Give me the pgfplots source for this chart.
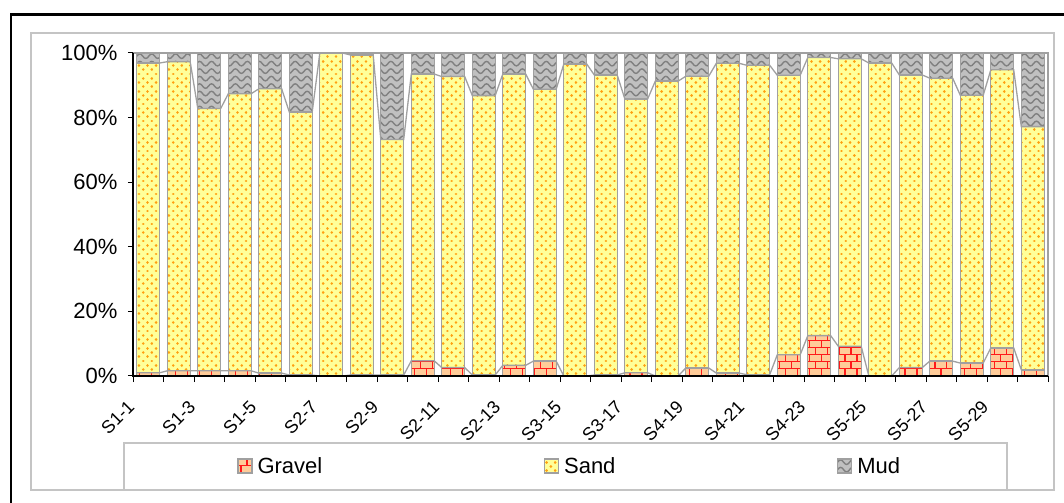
\documentclass[border=0pt]{standalone}
\usepackage{fontspec}
\setmainfont{Liberation Sans}
\usepackage{pgfplots}
\pgfplotsset{compat=1.18}
\usepackage{pgfplotstable}

\definecolor{gravelfill}{HTML}{FFCC99}
\definecolor{gravelline}{HTML}{FF1A1A}
\definecolor{sandfill}{HTML}{FFFF99}
\definecolor{sanddot}{HTML}{FFA010}
\definecolor{mudfill}{HTML}{C0C0C0}
\definecolor{mudwave}{HTML}{808080}
\definecolor{bargray}{HTML}{A0A0A0}
\definecolor{framegray}{HTML}{C4C4C4}

% corners of the shape being filled (numbers in pt)
\newcommand\ppbox{%
  \pgfpointanchor{path picture bounding box}{south west}\pgfgetlastxy{\ta}{\tb}%
  \pgfpointanchor{path picture bounding box}{north east}\pgfgetlastxy{\tc}{\td}%
  \pgfmathsetmacro\pxa{\ta}\pgfmathsetmacro\pya{\tb}%
  \pgfmathsetmacro\pxb{\tc}\pgfmathsetmacro\pyb{\td}%
}
% a straight stroke from (#1,#2) to (#3,#2), coordinates in pt
\newcommand\hstroke[3]{%
  \pgfpathmoveto{\pgfpoint{#1pt}{#2pt}}\pgfpathlineto{\pgfpoint{#3pt}{#2pt}}\pgfusepath{stroke}}

% fill textures, drawn with the basic layer so that the inner strokes
% do not pick up the bar style again
\tikzset{
  % red brick courses
  bricktex/.style={path picture={\ppbox
    \pgfmathtruncatemacro\ny{min(60,max(0,ceil((\pyb-\pya)/7)))}%
    \pgfplotsforeachungrouped \j in {0,...,\ny}{%
      \pgfmathsetmacro\ya{\pya+\j*7+0.7}%
      \pgfmathsetmacro\yb{\pya+\j*7+4.2}%
      \pgfmathsetmacro\xs{\pxa+2.3+mod(\j,2)*6}%
      \begin{pgfscope}
        \pgfsetstrokecolor{gravelline}\pgfsetlinewidth{1.4pt}%
        \hstroke{\pxa}{\ya}{\pxb}%
        \pgfsetlinewidth{7pt}\pgfsetbuttcap\pgfsetdash{{1.4pt}{10.6pt}}{0pt}%
        \hstroke{\xs}{\yb}{\pxb}%
      \end{pgfscope}
    }
  }},
  % staggered orange dots
  dottex/.style={path picture={\ppbox
    \pgfmathtruncatemacro\ny{min(90,max(0,ceil((\pyb-\pya)/4.3)))}%
    \pgfplotsforeachungrouped \j in {0,...,\ny}{%
      \pgfmathsetmacro\ya{\pya+\j*4.3+2.15}%
      \pgfmathsetmacro\xs{\pxa+2.15+mod(\j,2)*4.3}%
      \begin{pgfscope}
        \pgfsetstrokecolor{sanddot}\pgfsetlinewidth{2.8pt}\pgfsetroundcap
        \pgfsetdash{{0.01pt}{8.59pt}}{0pt}%
        \hstroke{\xs}{\ya}{\pxb}%
      \end{pgfscope}
    }
  }},
  % grey waves
  wavetex/.style={path picture={\ppbox
    \pgfmathtruncatemacro\nx{min(100,max(0,ceil((\pxb-\pxa)/12)))}%
    \pgfmathtruncatemacro\ny{min(60,max(0,ceil((\pyb-\pya)/7.5)))}%
    \pgfplotsforeachungrouped \j in {0,...,\ny}{%
      \pgfmathsetmacro\ya{\pyb-\j*7.5-3.2}%
      \begin{pgfscope}
        \pgfsetstrokecolor{mudwave}\pgfsetlinewidth{1.4pt}%
        \pgfpathmoveto{\pgfpoint{\pxa pt}{\ya pt}}%
        \pgfplotsforeachungrouped \i in {0,...,\nx}{%
          \pgfmathsetmacro\xw{\pxa+\i*12}%
          \pgfpathcurveto{\pgfpoint{\xw pt+2pt}{\ya pt+3pt}}{\pgfpoint{\xw pt+4pt}{\ya pt+3pt}}{\pgfpoint{\xw pt+6pt}{\ya pt}}%
          \pgfpathcurveto{\pgfpoint{\xw pt+8pt}{\ya pt-3pt}}{\pgfpoint{\xw pt+10pt}{\ya pt-3pt}}{\pgfpoint{\xw pt+12pt}{\ya pt}}%
        }%
        \pgfusepath{stroke}%
      \end{pgfscope}
    }
  }},
}

% grain size fractions (%) per sample
\pgfplotstableread{
x gravel sand mud
1 1.0 95.9 3.1
2 1.6 95.7 2.7
3 1.6 81.2 17.2
4 1.6 85.8 12.6
5 0.9 88.0 11.1
6 0.3 81.4 18.3
7 0.0 100.0 0.0
8 0.3 99.1 0.6
9 0.3 72.9 26.8
10 4.7 88.8 6.5
11 2.6 90.1 7.3
12 0.3 86.5 13.2
13 3.3 90.2 6.5
14 4.6 84.2 11.2
15 0.0 96.6 3.4
16 0.3 92.9 6.8
17 1.0 84.8 14.2
18 0.0 91.3 8.7
19 2.5 90.3 7.2
20 0.9 95.9 3.2
21 0.4 95.8 3.8
22 6.6 86.5 6.9
23 12.5 86.1 1.4
24 9.2 89.0 1.8
25 0.0 96.9 3.1
26 2.6 90.6 6.8
27 4.6 87.6 7.8
28 4.0 82.9 13.1
29 8.7 86.1 5.2
30 1.9 75.3 22.8
}\grain

% series lines joining the segment tops from one bar edge to the next
\def\seriesA{}
\def\seriesB{}
\pgfplotsforeachungrouped \i in {0,...,29}{%
  \pgfplotstablegetelem{\i}{x}\of\grain \let\xc\pgfplotsretval
  \pgfplotstablegetelem{\i}{gravel}\of\grain \let\gv\pgfplotsretval
  \pgfplotstablegetelem{\i}{sand}\of\grain \let\sv\pgfplotsretval
  \pgfmathsetmacro\xl{\xc-0.375}%
  \pgfmathsetmacro\xr{\xc+0.375}%
  \pgfmathsetmacro\gs{\gv+\sv}%
  \xdef\seriesA{\seriesA (\xl,\gv) (\xr,\gv)}%
  \xdef\seriesB{\seriesB (\xl,\gs) (\xr,\gs)}%
}
\newcommand\seriesplot[1]{\addplot[draw=bargray, line width=1.3bp, mark=none] coordinates {#1};}

\pgfplotsset{
  base/.style={
    at={(133bp,127bp)}, anchor=south west,
    width=915bp, height=323bp, scale only axis,
    xmin=0.5, xmax=30.5, ymin=0, ymax=100,
  },
  legbox/.style={legend image code/.code={\draw[##1] (0bp,-7bp) rectangle (14bp,7bp);}},
}

\begin{document}
\begin{tikzpicture}
\useasboundingbox (0,0) rectangle (1064bp,503bp);
\draw[black, line width=2.7bp] (11bp,-10bp) -- (11bp,488.5bp) -- (1080bp,488.5bp);
\draw[framegray, line width=1.3bp] (31bp,13bp) rectangle (1054bp,470bp);
\draw[framegray, line width=1.3bp] (124bp,13bp) rectangle (1007bp,60bp);

\begin{axis}[base,
  ybar stacked, bar width=0.75,
  axis line style={draw=none},
  tick pos=left, tick align=outside,
  major tick length=5bp, minor tick length=6bp,
  ytick={0,20,...,100},
  yticklabels={0\%,20\%,40\%,60\%,80\%,100\%},
  ytick style={black, line width=1bp},
  xtick={1,3,...,29},
  xticklabels={S1-1,S1-3,S1-5,S2-7,S2-9,S2-11,S2-13,S3-15,S3-17,S4-19,S4-21,S4-23,S5-25,S5-27,S5-29},
  major x tick style={draw=none},
  minor xtick={0.5,1.5,...,30.5},
  minor x tick style={black, line width=1bp},
  yticklabel style={font=\fontsize{22bp}{26bp}\selectfont, xshift=-7bp},
  xticklabel style={font=\fontsize{18bp}{22bp}\selectfont, anchor=east,
    inner sep=0pt, xshift=-17bp, yshift=-23bp, rotate=45},
  legend columns=3,
  legend cell align=left,
  legend style={draw=none, fill=none, inner sep=0pt,
    nodes={inner sep=5bp},
    at={(0.11366,-0.2786)}, anchor=west,
    font=\fontsize{22bp}{26bp}\selectfont,
    /tikz/every even column/.append style={column sep=216.5bp}},
]
\addplot[legbox, fill=gravelfill, draw=bargray, line width=1.3bp, bricktex,
  postaction={draw=bargray, line width=1.3bp}]
  table[x=x, y=gravel] {\grain};
\addlegendentry{Gravel}
\addplot[legbox, fill=sandfill, draw=bargray, line width=1.3bp, dottex,
  postaction={draw=bargray, line width=1.3bp}]
  table[x=x, y=sand] {\grain};
\addlegendentry{Sand}
\addplot[legbox, fill=mudfill, draw=bargray, line width=1.3bp, wavetex,
  postaction={draw=bargray, line width=1.3bp}]
  table[x=x, y=mud] {\grain};
\addlegendentry{Mud}
\end{axis}

\begin{axis}[base, hide axis, clip=false]
\expandafter\seriesplot\expandafter{\seriesA}
\expandafter\seriesplot\expandafter{\seriesB}
\draw[bargray, line width=1.3bp] (rel axis cs:0,1) -- (rel axis cs:1,1) -- (rel axis cs:1,0);
\draw[black, line width=1.3bp] (rel axis cs:0,1) -- (rel axis cs:0,0) -- (rel axis cs:1,0);
\end{axis}
\end{tikzpicture}
\end{document}
